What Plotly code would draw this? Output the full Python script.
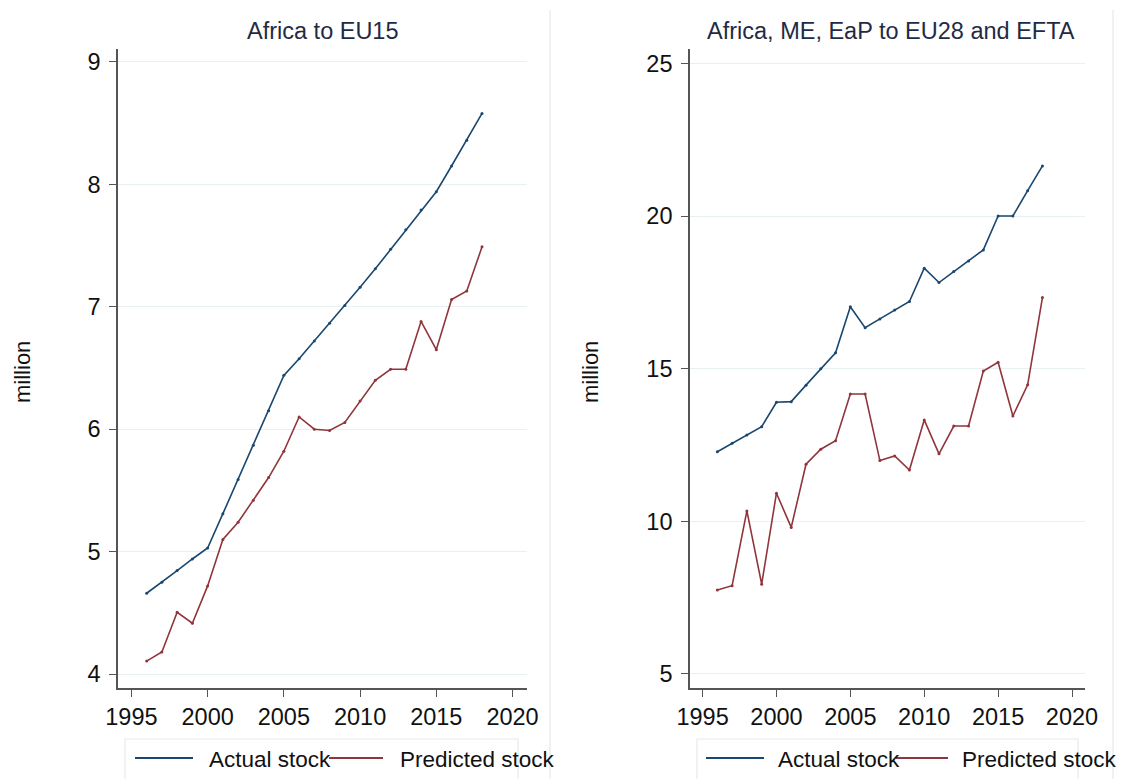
import plotly.graph_objects as go

# migrant stock, million
years = list(range(1996, 2019))

eu15_actual = [4.66, 4.75, 4.845, 4.94, 5.03, 5.31, 5.59, 5.87, 6.15, 6.44,
               6.576, 6.72, 6.865, 7.01, 7.16, 7.31, 7.47, 7.63, 7.79, 7.94,
               8.15, 8.36, 8.58]
eu15_predicted = [4.106, 4.18, 4.505, 4.415, 4.72, 5.10, 5.24, 5.42, 5.605, 5.82,
                  6.10, 6.00, 5.99, 6.055, 6.23, 6.40, 6.49, 6.49, 6.88, 6.65,
                  7.06, 7.13, 7.49]

eu28_actual = [12.28, 12.56, 12.83, 13.10, 13.90, 13.92, 14.46, 15.00, 15.52, 17.03,
               16.34, 16.63, 16.92, 17.20, 18.29, 17.82, 18.18, 18.53, 18.89, 20.00,
               20.00, 20.83, 21.64]
eu28_predicted = [7.75, 7.89, 10.34, 7.94, 10.92, 9.80, 11.87, 12.36, 12.64, 14.17,
                  14.17, 11.99, 12.14, 11.68, 13.32, 12.21, 13.12, 13.12, 14.92, 15.21,
                  13.45, 14.47, 17.33]

panel_titles = ["Africa to EU15", "Africa, ME, EaP to EU28 and EFTA"]
series_names = ["Actual stock", "Predicted stock"]
x_ticks = [1995, 2000, 2005, 2010, 2015, 2020]
eu15_y_ticks = [4, 5, 6, 7, 8, 9]
eu28_y_ticks = [5, 10, 15, 20, 25]

# page has an 8px body margin, so the figure itself starts at (8, 8)
OFF = 8
W, H = 1128 - OFF, 779 - OFF
BLUE = "#1a476f"
RED = "#90353b"
FONT = "Liberation Sans, Arial, sans-serif"


def px_x(p):
    return (p - OFF) / W


def px_y(p):
    return 1 - (p - OFF) / H


fig = go.Figure()

panels = [
    ("x", "y", eu15_actual, eu15_predicted),
    ("x2", "y2", eu28_actual, eu28_predicted),
]
for xa, ya, actual, predicted in panels:
    for vals, color, name in [(actual, BLUE, series_names[0]), (predicted, RED, series_names[1])]:
        fig.add_trace(go.Scatter(
            x=years, y=vals, xaxis=xa, yaxis=ya, name=name,
            mode="lines+markers",
            line=dict(color=color, width=1.6),
            marker=dict(color=color, size=3),
            showlegend=False,
        ))

axis_common = dict(
    showline=True, linecolor="#555555", linewidth=1.6,
    ticks="outside", ticklen=7, tickwidth=1.4, tickcolor="#555555",
    zeroline=False, automargin=False,
    tickfont=dict(family=FONT, size=23.5, color="#111111"),
)

fig.update_layout(
    width=W, height=H,
    margin=dict(l=0, r=0, t=0, b=0),
    paper_bgcolor="white", plot_bgcolor="white",
    font=dict(family=FONT, color="#111111"),
    xaxis=dict(domain=[px_x(118), px_x(527)], range=[1994.12, 2020.95],
               tickvals=x_ticks, showgrid=False, anchor="y", **axis_common),
    yaxis=dict(domain=[px_y(688), px_y(49)], range=[3.886, 9.106],
               tickvals=eu15_y_ticks, showgrid=True, gridcolor="#e9f0f1", gridwidth=1.2,
               anchor="x", ticklabelstandoff=4, **axis_common),
    xaxis2=dict(domain=[px_x(690), px_x(1085)], range=[1994.15, 2020.88],
                tickvals=x_ticks, showgrid=False, anchor="y2", **axis_common),
    yaxis2=dict(domain=[px_y(688), px_y(49)], range=[4.54, 25.47],
                tickvals=eu28_y_ticks, showgrid=True, gridcolor="#e9f0f1", gridwidth=1.2,
                anchor="x2", ticklabelstandoff=4, **axis_common),
)

# titles and y-axis labels
for title, cx, ylab_x in [(panel_titles[0], 323, 22), (panel_titles[1], 891, 590)]:
    fig.add_annotation(text=title, x=px_x(cx), y=px_y(31), xref="paper", yref="paper",
                       showarrow=False, xanchor="center", yanchor="middle",
                       font=dict(family=FONT, size=23.5, color="#1f2b45"))
    fig.add_annotation(text="million", x=px_x(ylab_x), y=px_y(372), xref="paper", yref="paper",
                       showarrow=False, textangle=-90, xanchor="center", yanchor="middle",
                       font=dict(family=FONT, size=22, color="#111111"))

# faint outer borders of the two graph regions
for bx in [550, 1113]:
    fig.add_shape(type="line", xref="paper", yref="paper",
                  x0=px_x(bx), x1=px_x(bx), y0=px_y(10), y1=px_y(785),
                  line=dict(color="#edf2f2", width=2))

# legends (Stata style, fixed key widths so the first label runs into the second key)
legend_specs = [
    (125, 518, [135, 193, 207, 329, 383, 398]),
    (697, 1078, [706, 764, 776, 896, 948, 960]),
]
for bx0, bx1, (b0, b1, t1, r0, r1, t2) in legend_specs:
    fig.add_shape(type="rect", xref="paper", yref="paper",
                  x0=px_x(bx0), x1=px_x(bx1), y0=px_y(739), y1=px_y(790),
                  line=dict(color="#e3ebeb", width=1.2), fillcolor="rgba(0,0,0,0)")
    for (x0, x1, color) in [(b0, b1, BLUE), (r0, r1, RED)]:
        fig.add_shape(type="line", xref="paper", yref="paper",
                      x0=px_x(x0), x1=px_x(x1), y0=px_y(758), y1=px_y(758),
                      line=dict(color=color, width=1.8))
    for tx, label in [(t1, series_names[0]), (t2, series_names[1])]:
        fig.add_annotation(text=label, x=px_x(tx), y=px_y(759), xref="paper", yref="paper",
                           showarrow=False, xanchor="left", yanchor="middle",
                           font=dict(family=FONT, size=22.5, color="#111111"))

fig.write_html("out.html")
